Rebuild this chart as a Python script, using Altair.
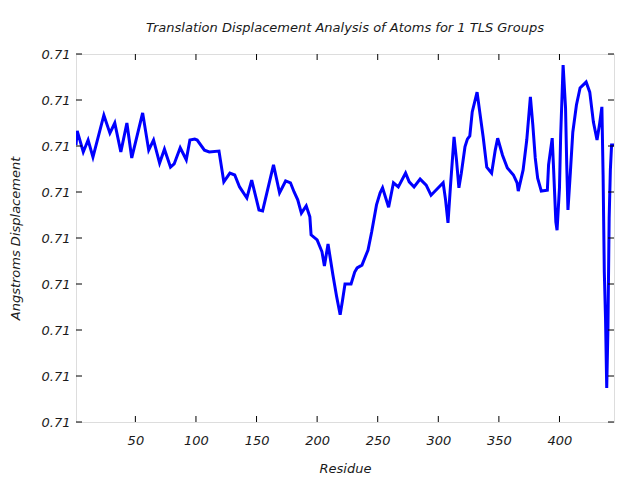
import altair as alt
import pandas as pd

residues = [1, 2, 7, 11, 15, 24, 29, 33, 38, 43, 47, 56, 61, 65, 70, 74, 79, 82, 87, 92,
            95, 99, 101, 107, 111, 119, 123, 128, 132, 136, 142, 146, 152, 155, 164, 169, 174, 178, 181, 184,
            187, 191, 194, 195, 200, 204, 206, 209, 213, 216, 219, 221, 223, 228, 231, 233, 237, 242, 245, 249,
            252, 254, 259, 263, 267, 273, 276, 280, 285, 290, 294, 304, 306, 308, 310, 313, 315, 317, 319, 322,
            324, 326, 328, 332, 334, 337, 340, 344, 347, 349, 353, 357, 362, 365, 366, 370, 373, 376, 378, 380,
            382, 385, 390, 391, 394, 395, 397, 398, 400, 401, 403, 405, 406, 407, 409, 411, 414, 417, 422, 425,
            428, 431, 433, 435, 436, 437, 438, 439, 440, 441, 442, 443, 445]

displacement = [0.710602, 0.710633, 0.710587, 0.710613, 0.710576, 0.710667, 0.710628, 0.710650, 0.710587, 0.710650,
                0.710574, 0.710672, 0.710591, 0.710613, 0.710563, 0.710593, 0.710554, 0.710561, 0.710596, 0.710570,
                0.710613, 0.710615, 0.710613, 0.710591, 0.710587, 0.710589, 0.710522, 0.710541, 0.710537, 0.710511,
                0.710487, 0.710526, 0.710461, 0.710459, 0.710559, 0.710498, 0.710524, 0.710520, 0.710500, 0.710483,
                0.710454, 0.710470, 0.710446, 0.710407, 0.710396, 0.710370, 0.710339, 0.710387, 0.710320, 0.710274,
                0.710233, 0.710265, 0.710300, 0.710300, 0.710326, 0.710335, 0.710341, 0.710374, 0.710413, 0.710472,
                0.710498, 0.710509, 0.710467, 0.710520, 0.710511, 0.710541, 0.710522, 0.710511, 0.710528, 0.710515,
                0.710493, 0.710520, 0.710483, 0.710433, 0.710511, 0.710620, 0.710570, 0.710509, 0.710541, 0.710598,
                0.710615, 0.710622, 0.710674, 0.710717, 0.710678, 0.710620, 0.710554, 0.710541, 0.710591, 0.710617,
                0.710580, 0.710552, 0.710537, 0.710520, 0.710502, 0.710548, 0.710613, 0.710707, 0.710646, 0.710574,
                0.710530, 0.710502, 0.710504, 0.710559, 0.710617, 0.710559, 0.710435, 0.710417, 0.710509, 0.710624,
                0.710776, 0.710683, 0.710559, 0.710461, 0.710543, 0.710630, 0.710689, 0.710726, 0.710739, 0.710717,
                0.710652, 0.710613, 0.710646, 0.710685, 0.710537, 0.710326, 0.710226, 0.710074, 0.710204, 0.710443,
                0.710548, 0.710602, 0.710602]

x_ticks = [50, 100, 150, 200, 250, 300, 350, 400]
y_ticks = [0.7100, 0.7101, 0.7102, 0.7103, 0.7104, 0.7105, 0.7106, 0.7107, 0.7108]

df = pd.DataFrame({"Residue": residues, "Displacement": displacement})
xt = pd.DataFrame({"t": x_ticks})
yt = pd.DataFrame({"t": y_ticks})

FONT = "DejaVu Sans"
FS = 13
TXT = "#1a1a1a"
W, H = 538, 368

xscale = alt.Scale(domain=[1, 445], nice=False, zero=False)
yscale = alt.Scale(domain=[0.7100, 0.7108], nice=False, zero=False)

line = alt.Chart(df).mark_line(color="#0000ff", strokeWidth=3, clip=True).encode(
    x=alt.X("Residue:Q", scale=xscale,
            axis=alt.Axis(values=x_ticks, title="Residue", grid=False, domain=False, ticks=False,
                          labelPadding=12, titlePadding=15, labelFont=FONT, labelFontStyle="italic",
                          labelFontSize=FS, labelColor=TXT, titleFont=FONT, titleFontStyle="italic",
                          titleFontWeight="normal", titleFontSize=FS, titleColor=TXT)),
    y=alt.Y("Displacement:Q", scale=yscale,
            axis=alt.Axis(values=y_ticks, format=".2f", title="Angstroms Displacement", grid=False,
                          domain=False, ticks=False, labelPadding=6, titlePadding=19, labelFont=FONT,
                          labelFontStyle="italic", labelFontSize=FS, labelColor=TXT, titleFont=FONT,
                          titleFontStyle="italic", titleFontWeight="normal", titleFontSize=FS,
                          titleColor=TXT)),
)

xb = alt.Chart(xt).mark_rule(color="black", strokeWidth=1).encode(
    x=alt.X("t:Q", scale=xscale), y=alt.value(H), y2=alt.value(H - 6))
xtop = alt.Chart(xt).mark_rule(color="black", strokeWidth=1).encode(
    x=alt.X("t:Q", scale=xscale), y=alt.value(0), y2=alt.value(6))
yl = alt.Chart(yt).mark_rule(color="black", strokeWidth=1).encode(
    y=alt.Y("t:Q", scale=yscale), x=alt.value(0), x2=alt.value(6))
yr = alt.Chart(yt).mark_rule(color="black", strokeWidth=1).encode(
    y=alt.Y("t:Q", scale=yscale), x=alt.value(W), x2=alt.value(W - 6))

chart = alt.layer(line, xb, xtop, yl, yr).properties(
    width=W, height=H,
    title=alt.Title("Translation Displacement Analysis of Atoms for 1 TLS Groups", font=FONT,
                    fontStyle="italic", fontWeight="normal", fontSize=FS, color=TXT,
                    anchor="middle", offset=13),
    autosize=alt.AutoSizeParams(type="none"),
    padding={"left": 76, "top": 54, "right": 26, "bottom": 58},
).configure_view(stroke="black", strokeWidth=1.2).configure(background="white")

chart.save("out.html", embed_options={"renderer": "svg", "actions": False})
